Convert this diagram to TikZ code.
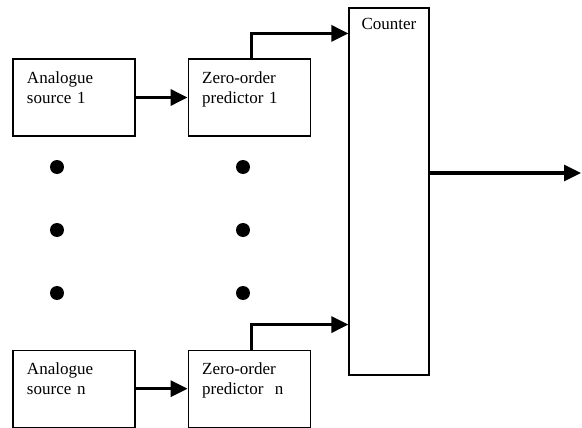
\documentclass[tikz,border=0pt]{standalone}
\usepackage{fontspec}
\setmainfont{Liberation Serif}
\usetikzlibrary{positioning,arrows.meta}

\begin{document}
\begin{tikzpicture}[x=1pt,y=1pt,>={Triangle[length=17pt,width=16pt]},node distance=52pt,
    every node/.style={font=\fontsize{17}{20}\selectfont},
    box/.style={draw,line width=1.2pt,minimum width=122pt,minimum height=77pt,
        text width=94pt,inner xsep=14pt,inner ysep=0pt,align=left},
    link/.style={->,line width=3.2pt},
    dot/.style={circle,fill,inner sep=0pt,minimum size=14pt}]

    \useasboundingbox (0,0) rectangle (582,-428);

    % blocks
    \node[box] (src1) at (74,-97.5) {Analogue\\source 1\\\mbox{}};
    \node[box] (pred1) [right=of src1] {Zero-order\\predictor 1\\\mbox{}};
    \node[box] (srcn) [below=213pt of src1] {Analogue\\source n\\\mbox{}};
    \node[box] (predn) [right=of srcn] {Zero-order\\predictor\ \ n\\\mbox{}};
    \node[draw,line width=1.2pt,minimum width=80pt,minimum height=367pt,inner sep=0pt,
        label={[anchor=north west,inner sep=0pt,xshift=13pt,yshift=-11pt]north west:Counter}]
        (counter) at (389,-191.5) {};

    % ends of the connectors
    \coordinate (in1) at ([yshift=-26pt]counter.north west);
    \coordinate (inn) at ([yshift=51pt]counter.south west);
    \coordinate (out0) at ([yshift=18.5pt]counter.east);
    \coordinate (out) at (581,-173);

    % connectors
    \draw[link] (src1) -- (pred1);
    \draw[link] (srcn) -- (predn);
    \draw[link] ([xshift=2pt]pred1.north) |- (in1);
    \draw[link] ([xshift=2pt]predn.north) |- (inn);
    \draw[link] (out0) -- (out);

    % dots between the rows
    \foreach \y [count=\i] in {-167,-230,-293} {
        \node[dot] (dl\i) at (57,\y) {};
        \node[dot] (dr\i) at (243,\y) {};
    }

\end{tikzpicture}
\end{document}
